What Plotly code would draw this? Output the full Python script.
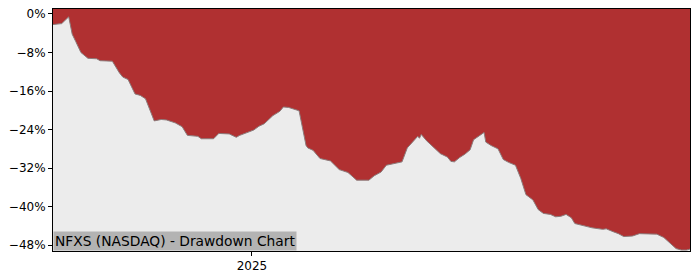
import plotly.graph_objects as go

dates = [
    "2024-09-09", "2024-09-14", "2024-09-18", "2024-09-20", "2024-09-22", "2024-09-25",
    "2024-09-29", "2024-10-04", "2024-10-06", "2024-10-13", "2024-10-17", "2024-10-19",
    "2024-10-22", "2024-10-26", "2024-10-29", "2024-11-01", "2024-11-06", "2024-11-10",
    "2024-11-13", "2024-11-18", "2024-11-22", "2024-11-25", "2024-12-01", "2024-12-03",
    "2024-12-10", "2024-12-13", "2024-12-19", "2024-12-23", "2024-12-25", "2024-12-29",
    "2025-01-02", "2025-01-05", "2025-01-08", "2025-01-13", "2025-01-17", "2025-01-19",
    "2025-01-22", "2025-01-28", "2025-01-31", "2025-02-01", "2025-02-02", "2025-02-05",
    "2025-02-09", "2025-02-15", "2025-02-20", "2025-02-25", "2025-03-02", "2025-03-09",
    "2025-03-12", "2025-03-16", "2025-03-19", "2025-03-28", "2025-03-31", "2025-04-03",
    "2025-04-06", "2025-04-07", "2025-04-08", "2025-04-11", "2025-04-16", "2025-04-19",
    "2025-04-23", "2025-04-25", "2025-04-27", "2025-04-30", "2025-05-03", "2025-05-06",
    "2025-05-08", "2025-05-12", "2025-05-14", "2025-05-15", "2025-05-18", "2025-05-22",
    "2025-05-25", "2025-05-28", "2025-06-01", "2025-06-04", "2025-06-07", "2025-06-11",
    "2025-06-14", "2025-06-17", "2025-06-21", "2025-06-24", "2025-06-27", "2025-06-30",
    "2025-07-03", "2025-07-05", "2025-07-10", "2025-07-15", "2025-07-21", "2025-07-23",
    "2025-07-27", "2025-07-30", "2025-08-02", "2025-08-07", "2025-08-11", "2025-08-16",
    "2025-08-21", "2025-08-25", "2025-08-29", "2025-09-01", "2025-09-04", "2025-09-07",
    "2025-09-09",
]

drawdown = [
    -2.2, -2.0, -0.6, -4.2, -5.7, -8.0,
    -9.2, -9.3, -9.7, -9.8, -12.2, -13.1,
    -13.6, -16.6, -16.9, -17.6, -22.2, -21.9,
    -22.0, -22.6, -23.4, -25.2, -25.4, -25.9,
    -25.9, -24.8, -24.9, -25.6, -25.2, -24.6,
    -24.1, -23.3, -22.8, -21.1, -20.2, -19.3,
    -19.4, -20.1, -25.6, -27.3, -27.8, -28.3,
    -30.0, -30.5, -32.3, -32.9, -34.5, -34.5,
    -33.6, -32.8, -31.4, -30.7, -27.8, -26.6,
    -25.4, -25.8, -25.0, -26.3, -28.0, -29.0,
    -29.7, -30.6, -30.7, -29.8, -29.1, -28.2,
    -26.1, -25.2, -24.6, -26.6, -27.3, -28.0,
    -30.2, -30.8, -31.4, -34.1, -37.5, -38.6,
    -40.6, -41.4, -41.6, -42.1, -42.0, -41.6,
    -42.3, -43.5, -44.0, -44.4, -44.7, -44.6,
    -45.2, -45.6, -46.2, -46.1, -45.6, -45.6,
    -45.7, -46.4, -47.7, -48.7, -49.0, -49.0,
    -48.8,
]

y_ticks = [0, -8, -16, -24, -32, -40, -48]
y_tick_labels = ["0%", "\u22128%", "\u221216%", "\u221224%", "\u221232%", "\u221240%", "\u221248%"]
x_ticks = ["2025-01-01"]
x_tick_labels = ["2025"]
title_text = "NFXS (NASDAQ) - Drawdown Chart"

RED = "#b03031"
BG = "#ececec"
FONT = "DejaVu Sans"
TOP = 10  # fill ceiling (clipped by axis range)

fig = go.Figure()
fig.add_trace(go.Scatter(
    x=dates, y=[TOP] * len(dates), mode="lines",
    line=dict(width=0, color=RED), hoverinfo="skip", showlegend=False,
))
fig.add_trace(go.Scatter(
    x=dates, y=drawdown, mode="lines",
    line=dict(width=1, color="#8c7a7a"),
    fill="tonexty", fillcolor=RED, showlegend=False,
))

fig.update_layout(
    width=700, height=280,
    margin=dict(l=53, r=10, t=7, b=28),
    paper_bgcolor="white", plot_bgcolor=BG,
    font=dict(family=FONT, size=12, color="black"),
    showlegend=False,
    annotations=[dict(
        text=title_text, xref="paper", yref="paper", x=0, y=0,
        xanchor="left", yanchor="bottom", showarrow=False,
        bgcolor="#b3b3b3", borderpad=1,
        font=dict(family=FONT, size=13.8, color="black"),
    )],
)
fig.update_xaxes(
    range=[dates[0], dates[-1]], showgrid=False, zeroline=False,
    showline=True, mirror=True, linecolor="black", linewidth=1,
    ticks="outside", ticklen=4, tickwidth=1, tickcolor="black",
    tickvals=x_ticks, ticktext=x_tick_labels,
)
fig.update_yaxes(
    range=[-49.2, 1.03], showgrid=False, zeroline=False,
    showline=True, mirror=True, linecolor="black", linewidth=1,
    ticks="outside", ticklen=4, tickwidth=1, tickcolor="black",
    tickvals=y_ticks, ticktext=y_tick_labels,
)

fig.write_html("out.html")
